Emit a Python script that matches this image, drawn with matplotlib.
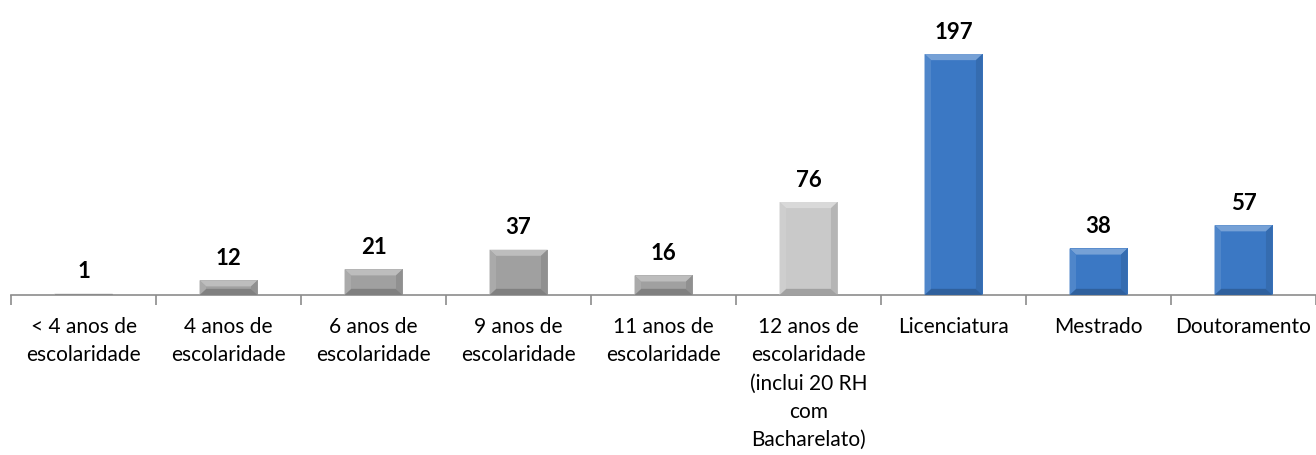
import numpy as np
import matplotlib.pyplot as plt
from matplotlib.patches import Polygon

categories = [
    "< 4 anos de\nescolaridade",
    "4 anos de\nescolaridade",
    "6 anos de\nescolaridade",
    "9 anos de\nescolaridade",
    "11 anos de\nescolaridade",
    "12 anos de\nescolaridade\n(inclui 20 RH\ncom\nBacharelato)",
    "Licenciatura",
    "Mestrado",
    "Doutoramento",
]
values = [1, 12, 21, 37, 16, 76, 197, 38, 57]
colors = ["#a0a0a0", "#a0a0a0", "#a0a0a0", "#a0a0a0", "#a0a0a0",
          "#c9c9c9", "#3b78c4", "#3b78c4", "#3b78c4"]

plt.rcParams['font.family'] = ['Lato', 'DejaVu Sans']


def shade(c, f):
    r, g, b = plt.matplotlib.colors.to_rgb(c)
    if f > 0:
        return (r + (1 - r) * f, g + (1 - g) * f, b + (1 - b) * f)
    return (r * (1 + f), g * (1 + f), b * (1 + f))


fig = plt.figure(figsize=(13.16, 4.56), dpi=100)
ax = fig.add_axes([0.0084, 0.351, 0.9916, 0.649])

x = np.arange(len(values))
width = 0.4
bars = ax.bar(x, values, width=width, color=colors, zorder=2)

# bevel on each bar
bx = 0.045
by = 5.0
for b, c in zip(bars, colors):
    x0 = b.get_x()
    x1 = x0 + b.get_width()
    h = b.get_height()
    d = min(by, h / 2)
    dx = bx * d / by
    top = [(x0, h), (x1, h), (x1 - dx, h - d), (x0 + dx, h - d)]
    bot = [(x0, 0), (x1, 0), (x1 - dx, d), (x0 + dx, d)]
    left = [(x0, 0), (x0, h), (x0 + dx, h - d), (x0 + dx, d)]
    right = [(x1, 0), (x1, h), (x1 - dx, h - d), (x1 - dx, d)]
    ax.add_patch(Polygon(top, closed=True, color=shade(c, 0.3), lw=0, zorder=3))
    ax.add_patch(Polygon(bot, closed=True, color=shade(c, -0.2), lw=0, zorder=3))
    ax.add_patch(Polygon(left, closed=True, color=shade(c, 0.1), lw=0, zorder=3))
    ax.add_patch(Polygon(right, closed=True, color=shade(c, -0.1), lw=0, zorder=3))
    ax.annotate(str(int(h)), (b.get_x() + b.get_width() / 2, h),
                xytext=(0, 9), textcoords='offset points',
                ha='center', va='bottom', fontsize=16, fontweight='bold')

ax.set_xlim(-0.5, len(values) - 0.5)
ax.set_ylim(0, 242)

for s in ['top', 'right', 'left']:
    ax.spines[s].set_visible(False)
ax.spines['bottom'].set_color('#8c8c8c')
ax.spines['bottom'].set_linewidth(1.2)
ax.set_yticks([])

ax.set_xticks(x)
ax.set_xticklabels(categories, fontsize=15, linespacing=1.52)
ax.tick_params(axis='x', which='major', length=0, pad=15)
ax.set_xticks(np.arange(-0.5, len(values)), minor=True)
ax.tick_params(axis='x', which='minor', length=7, color='#8c8c8c', width=1.2)

fig.savefig('out.png', dpi=100)
